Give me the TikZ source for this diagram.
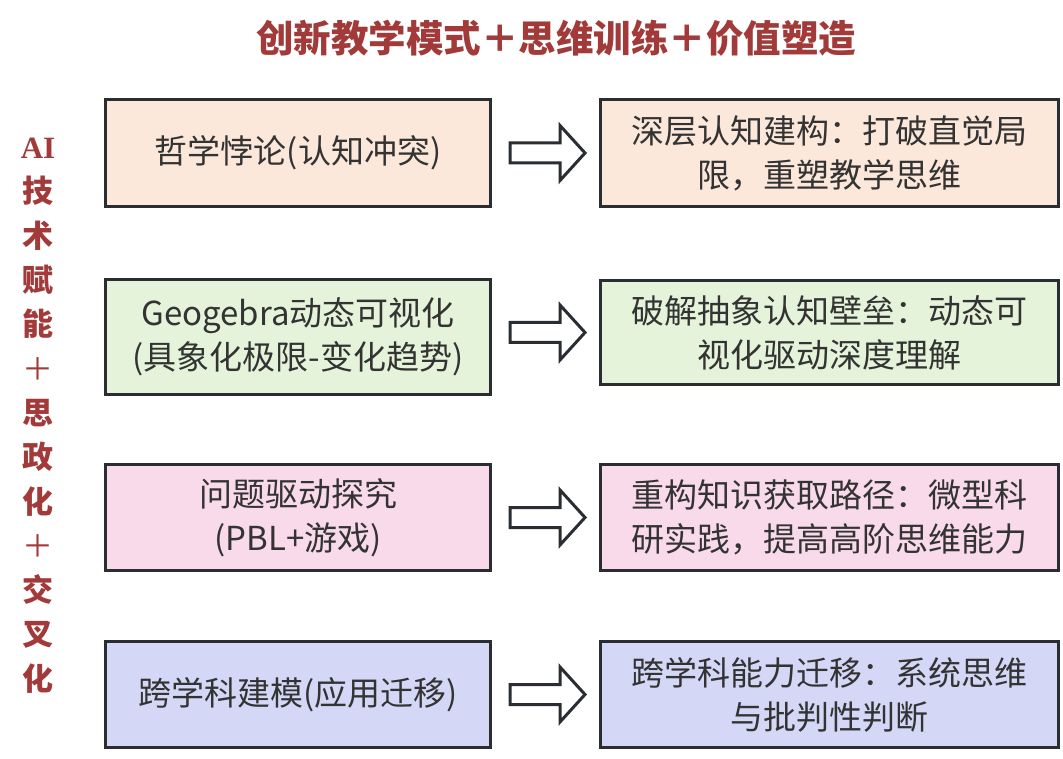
\documentclass[tikz,border=0pt]{standalone}
\usepackage{fontspec}
\setmainfont{Liberation Sans}
\newfontfamily\cjk{Noto Sans CJK SC}
\newfontfamily\serifb{Liberation Serif}
\usetikzlibrary{calc}
\definecolor{titlered}{HTML}{A23A3A}
\definecolor{txtgrey}{HTML}{333333}
\definecolor{edgegrey}{HTML}{2A2E33}
\definecolor{fillA}{HTML}{FBE8DA}
\definecolor{fillB}{HTML}{E4F3D9}
\definecolor{fillC}{HTML}{F8DAEA}
\definecolor{fillD}{HTML}{D4D8F6}
\tikzset{
  box/.style={draw=edgegrey, line width=3pt, inner sep=0pt, anchor=north west,
    align=center, text=txtgrey, font=\cjk\fontsize{33}{44}\selectfont},
  lbox/.style={box, minimum width=385pt},
  rbox/.style={box, minimum width=458pt},
  blockarr/.style={draw=edgegrey, fill=white, line width=3pt, line join=miter},
}
\begin{document}
\begin{tikzpicture}[x=1pt,y=-1pt]
\useasboundingbox[fill=white] (0,0) rectangle (1063,759);

\node[font=\cjk\bfseries\fontsize{37.5}{44}\selectfont, text=titlered] (title) at (556,38) {创新教学模式＋思维训练＋价值塑造};

\node[font=\cjk\bfseries\fontsize{31}{44.3}\selectfont, text=titlered, align=center, inner sep=0pt, anchor=north] (side) at (38,138)
  {{\serifb\bfseries AI}\\技\\术\\赋\\能\\{\mdseries ＋}\\思\\政\\化\\{\mdseries ＋}\\交\\叉\\化};

% row 1
\node[lbox, fill=fillA, minimum height=107pt] (l1) at (104,98) {哲学悖论(认知冲突)};
\node[rbox, fill=fillA, minimum height=107pt] (r1) at (599,98) {深层认知建构：打破直觉局\\限，重塑教学思维};
% row 2
\node[lbox, fill=fillB, minimum height=115pt] (l2) at (104,278) {Geogebra动态可视化\\(具象化极限-变化趋势)};
\node[rbox, fill=fillB, minimum height=104pt] (r2) at (599,279) {破解抽象认知壁垒：动态可\\视化驱动深度理解};
% row 3
\node[lbox, fill=fillC, minimum height=106pt] (l3) at (104,463) {问题驱动探究\\(PBL+游戏)};
\node[rbox, fill=fillC, minimum height=106pt] (r3) at (599,463) {重构知识获取路径：微型科\\研实践，提高高阶思维能力};
% row 4
\node[lbox, fill=fillD, minimum height=106pt] (l4) at (104,640) {跨学科建模(应用迁移)};
\node[rbox, fill=fillD, minimum height=106pt] (r4) at (599,640) {跨学科能力迁移：系统思维\\与批判性判断};

% arrows
\foreach \i in {1,2,3,4}{
  \coordinate (a\i) at ($(l\i.east |- r\i.west)+(18,0)$);
  \draw[blockarr] (a\i) ++(0,-10) -- ++(50,0) -- ++(0,-17.5) -- ++(25,27.5)
     -- ++(-25,27.5) -- ++(0,-17.5) -- ++(-50,0) -- cycle;
}
\end{tikzpicture}
\end{document}
